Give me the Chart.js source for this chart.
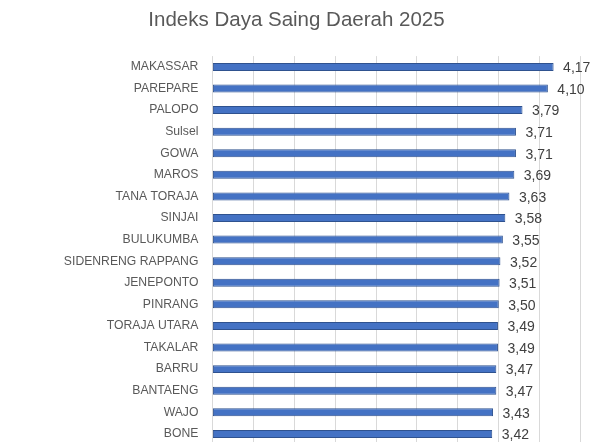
<!DOCTYPE html>
<html>
<head>
<meta charset="utf-8">
<script src="https://cdn.jsdelivr.net/npm/chart.js@4/dist/chart.umd.min.js"></script>
<style>
html,body{margin:0;padding:0;background:#fff;overflow:hidden;width:600px;height:442px;}
#wrap{position:relative;width:600px;height:466px;}
</style>
</head>
<body>
<div id="wrap"><canvas id="c"></canvas></div>
<script>
const chartTitle = "Indeks Daya Saing Daerah 2025";
const categories = ["MAKASSAR","PAREPARE","PALOPO","Sulsel","GOWA","MAROS","TANA TORAJA","SINJAI","BULUKUMBA","SIDENRENG RAPPANG","JENEPONTO","PINRANG","TORAJA UTARA","TAKALAR","BARRU","BANTAENG","WAJO","BONE"];
const values = [4.17,4.10,3.79,3.71,3.71,3.69,3.63,3.58,3.55,3.52,3.51,3.50,3.49,3.49,3.47,3.47,3.43,3.42];
const xMin = 0, xMax = 4.5, xStep = 0.5;

const labelPlugin = {
  id: 'valueLabels',
  afterDatasetsDraw(chart) {
    const ctx = chart.ctx;
    const meta = chart.getDatasetMeta(0);
    ctx.save();
    ctx.font = '14px "Liberation Sans", Arial, sans-serif';
    ctx.fillStyle = '#404040';
    ctx.textAlign = 'left';
    ctx.textBaseline = 'middle';
    meta.data.forEach((bar, i) => {
      const v = chart.data.datasets[0].data[i];
      ctx.fillText(v.toFixed(2).replace('.', ','), bar.x + 9.5, bar.y + 1.5);
    });
    ctx.restore();
  }
};

new Chart(document.getElementById('c'), {
  type: 'bar',
  data: {
    labels: categories,
    datasets: [{
      data: values,
      backgroundColor: '#4472C4',
      borderColor: '#2F528F',
      borderWidth: 1,
      borderSkipped: false,
      categoryPercentage: 1,
      barPercentage: 0.37
    }]
  },
  options: {
    indexAxis: 'y',
    responsive: true,
    maintainAspectRatio: false,
    animation: false,
    devicePixelRatio: 1,
    layout: { padding: { left: 12.4, right: 19.4, top: 0, bottom: 5 } },
    plugins: {
      legend: { display: false },
      tooltip: { enabled: false },
      title: {
        display: true,
        text: chartTitle,
        color: '#595959',
        font: { family: '"Liberation Sans", Arial, sans-serif', size: 20.5, weight: 'normal', lineHeight: 1.2 },
        padding: { top: 8, bottom: 23.5 }
      }
    },
    scales: {
      x: {
        min: xMin, max: xMax,
        afterFit(scale) { scale.height = 0; },
        ticks: { display: false, stepSize: xStep },
        grid: { color: '#d9d9d9', lineWidth: 1, drawTicks: false },
        border: { display: false }
      },
      y: {
        afterFit(scale) { scale.width = 200; },
        ticks: {
          color: '#595959',
          padding: 14,
          font: { family: '"Liberation Sans", Arial, sans-serif', size: 12.2 }
        },
        grid: { display: false, drawTicks: false },
        border: { display: false }
      }
    }
  },
  plugins: [labelPlugin]
});
</script>
</body>
</html>
